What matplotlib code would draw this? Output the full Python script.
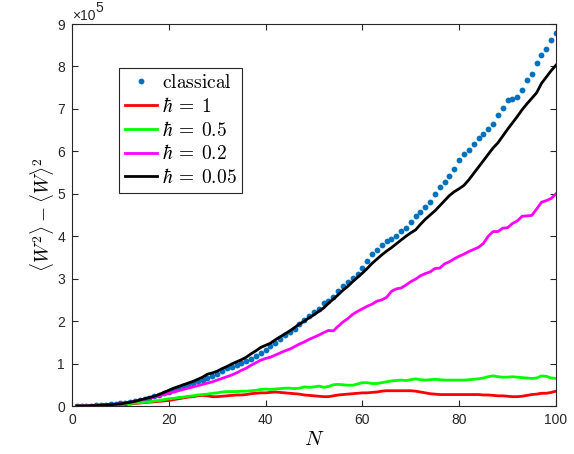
import numpy as np
import matplotlib
matplotlib.use("Agg")
import matplotlib.pyplot as plt

plt.rcParams['font.family'] = ['Liberation Sans', 'DejaVu Sans']
plt.rcParams['mathtext.fontset'] = 'cm'

# --- DATA (units of 1e5) ---
N = np.arange(1, 101)

classical = [0.00, 0.00, 0.01, 0.01, 0.02, 0.02, 0.03, 0.04, 0.05, 0.06,
             0.08, 0.10, 0.12, 0.14, 0.17, 0.20, 0.23, 0.26, 0.30, 0.34,
             0.38, 0.42, 0.46, 0.50, 0.54, 0.58, 0.62, 0.66, 0.71, 0.76,
             0.83, 0.90, 0.92, 0.96, 1.01, 1.06, 1.11, 1.18, 1.25, 1.33,
             1.41, 1.48, 1.57, 1.67, 1.74, 1.82, 1.93, 2.03, 2.13, 2.21,
             2.29, 2.42, 2.47, 2.57, 2.70, 2.82, 2.93, 3.02, 3.11, 3.26,
             3.42, 3.59, 3.68, 3.79, 3.88, 3.93, 4.01, 4.12, 4.19, 4.33,
             4.48, 4.56, 4.68, 4.81, 4.99, 5.15, 5.27, 5.41, 5.59, 5.79,
             5.94, 6.04, 6.17, 6.32, 6.42, 6.52, 6.64, 6.86, 7.03, 7.20,
             7.24, 7.28, 7.45, 7.68, 7.82, 8.09, 8.26, 8.40, 8.62, 8.80]

hbar_1 = [0.00, 0.00, 0.00, 0.01, 0.01, 0.01, 0.02, 0.02, 0.03, 0.04,
          0.04, 0.05, 0.06, 0.07, 0.08, 0.09, 0.10, 0.11, 0.12, 0.13,
          0.15, 0.17, 0.19, 0.21, 0.22, 0.24, 0.25, 0.24, 0.22, 0.22,
          0.23, 0.24, 0.25, 0.26, 0.26, 0.27, 0.29, 0.30, 0.31, 0.31,
          0.32, 0.33, 0.32, 0.31, 0.30, 0.29, 0.28, 0.26, 0.25, 0.24,
          0.23, 0.22, 0.22, 0.24, 0.26, 0.27, 0.28, 0.29, 0.30, 0.31,
          0.31, 0.32, 0.33, 0.35, 0.36, 0.36, 0.36, 0.36, 0.36, 0.36,
          0.35, 0.33, 0.31, 0.29, 0.28, 0.27, 0.27, 0.27, 0.27, 0.27,
          0.27, 0.27, 0.27, 0.27, 0.26, 0.26, 0.25, 0.24, 0.24, 0.23,
          0.22, 0.22, 0.23, 0.25, 0.27, 0.28, 0.30, 0.30, 0.32, 0.35]

hbar_05 = [0.00, 0.00, 0.00, 0.01, 0.01, 0.02, 0.02, 0.03, 0.03, 0.04,
           0.05, 0.06, 0.07, 0.08, 0.09, 0.10, 0.12, 0.13, 0.15, 0.17,
           0.18, 0.20, 0.21, 0.23, 0.24, 0.26, 0.27, 0.28, 0.30, 0.31,
           0.33, 0.34, 0.34, 0.34, 0.35, 0.35, 0.36, 0.37, 0.39, 0.40,
           0.39, 0.40, 0.41, 0.42, 0.42, 0.41, 0.42, 0.45, 0.44, 0.45,
           0.47, 0.44, 0.46, 0.50, 0.51, 0.50, 0.49, 0.49, 0.52, 0.55,
           0.55, 0.53, 0.53, 0.55, 0.57, 0.59, 0.60, 0.61, 0.60, 0.62,
           0.64, 0.62, 0.61, 0.62, 0.63, 0.62, 0.61, 0.61, 0.61, 0.61,
           0.61, 0.62, 0.63, 0.64, 0.66, 0.69, 0.71, 0.69, 0.68, 0.68,
           0.69, 0.68, 0.67, 0.66, 0.65, 0.66, 0.71, 0.70, 0.66, 0.65]

hbar_02 = [0.00, 0.00, 0.00, 0.01, 0.01, 0.02, 0.03, 0.03, 0.04, 0.05,
           0.07, 0.09, 0.11, 0.14, 0.16, 0.19, 0.21, 0.24, 0.27, 0.30,
           0.33, 0.36, 0.39, 0.42, 0.45, 0.48, 0.51, 0.54, 0.57, 0.61,
           0.65, 0.69, 0.73, 0.78, 0.84, 0.89, 0.96, 1.02, 1.08, 1.12,
           1.15, 1.20, 1.25, 1.30, 1.34, 1.40, 1.46, 1.51, 1.57, 1.62,
           1.67, 1.73, 1.78, 1.77, 1.88, 1.98, 2.06, 2.16, 2.23, 2.29,
           2.35, 2.40, 2.47, 2.50, 2.56, 2.70, 2.76, 2.78, 2.85, 2.93,
           2.99, 3.07, 3.12, 3.16, 3.24, 3.25, 3.35, 3.40, 3.47, 3.53,
           3.58, 3.64, 3.69, 3.74, 3.83, 4.00, 4.11, 4.11, 4.19, 4.20,
           4.30, 4.36, 4.47, 4.48, 4.49, 4.64, 4.80, 4.84, 4.89, 5.00]

hbar_005 = [0.00, 0.00, 0.00, 0.01, 0.01, 0.02, 0.03, 0.03, 0.04, 0.05,
            0.07, 0.09, 0.11, 0.14, 0.17, 0.20, 0.23, 0.27, 0.32, 0.37,
            0.42, 0.46, 0.50, 0.54, 0.58, 0.63, 0.68, 0.75, 0.78, 0.82,
            0.88, 0.93, 0.99, 1.04, 1.09, 1.15, 1.23, 1.30, 1.38, 1.43,
            1.48, 1.56, 1.63, 1.70, 1.77, 1.85, 1.93, 2.00, 2.08, 2.15,
            2.23, 2.31, 2.42, 2.52, 2.62, 2.73, 2.82, 2.93, 3.03, 3.13,
            3.24, 3.36, 3.46, 3.56, 3.65, 3.73, 3.82, 3.91, 4.00, 4.08,
            4.15, 4.28, 4.40, 4.50, 4.60, 4.72, 4.84, 4.96, 5.05, 5.12,
            5.20, 5.33, 5.48, 5.63, 5.78, 5.93, 6.08, 6.20, 6.36, 6.52,
            6.67, 6.82, 6.98, 7.12, 7.25, 7.38, 7.60, 7.75, 7.90, 8.03]

# --- PLOT ---
fig = plt.figure(figsize=(5.74, 4.54), dpi=100)
ax = fig.add_axes([0.1254, 0.1057, 0.8432, 0.8414])

ax.plot(N, classical, 'o', color='#0072BD', markersize=4.2, markeredgewidth=0,
        label=r'$\mathrm{classical}$')
ax.plot(N, hbar_1, color=(1, 0, 0), lw=2, label=r'$\hbar\:=\:1$')
ax.plot(N, hbar_05, color=(0, 1, 0), lw=2, label=r'$\hbar\:=\:0.5$')
ax.plot(N, hbar_02, color=(1, 0, 1), lw=2, label=r'$\hbar\:=\:0.2$')
ax.plot(N, hbar_005, color='black', lw=2, label=r'$\hbar\:=\:0.05$')

ax.set_xlim(0, 100)
ax.set_ylim(0, 9)
ax.set_xticks(np.arange(0, 101, 20))
ax.set_yticks(np.arange(0, 10, 1))

grey = '#262626'
for s in ax.spines.values():
    s.set_color(grey)
    s.set_linewidth(0.8)
ax.tick_params(direction='in', length=4, width=0.8, top=True, right=True,
               labelsize=10, colors=grey, pad=5)

ax.set_xlabel(r'$N$', fontsize=15, labelpad=2)
ax.set_ylabel(r'$\langle W^2\rangle - \langle W\rangle^2$', fontsize=14, labelpad=1)

# exponent label like MATLAB
ax.text(0.0, 1.0105, '×10', transform=ax.transAxes, fontsize=10, color=grey,
        ha='left', va='baseline')
ax.text(0.048, 1.031, '5', transform=ax.transAxes, fontsize=10, color=grey,
        ha='left', va='baseline')

leg = ax.legend(loc='upper left', bbox_to_anchor=(0.097, 0.885), borderaxespad=0,
                fontsize=14, fancybox=False, framealpha=1, edgecolor=grey,
                handlelength=1.65, handletextpad=0.25, labelspacing=0.25,
                borderpad=0.3)
leg.get_frame().set_linewidth(0.8)

fig.savefig('out.png', dpi=100)
